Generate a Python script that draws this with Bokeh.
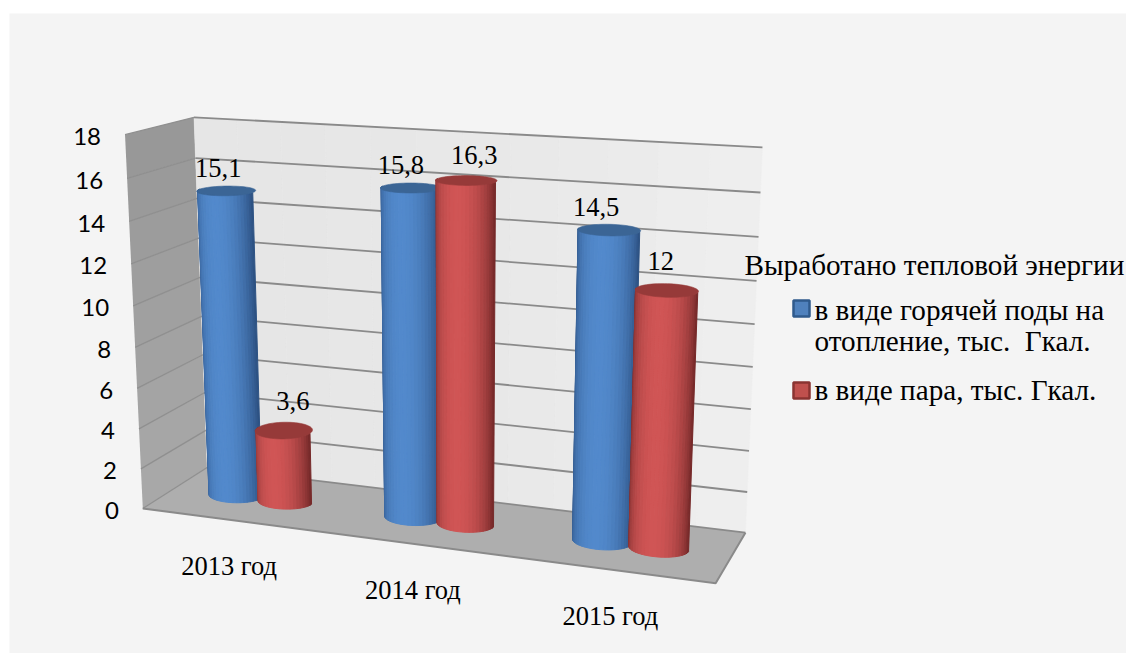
import numpy as np
from bokeh.plotting import figure
from bokeh.embed import file_html
from bokeh.resources import INLINE
from bokeh.core.properties import value

categories = ["2013 год", "2014 год", "2015 год"]
blue_values = [15.1, 15.8, 14.5]
red_values = [3.6, 16.3, 12.0]
blue_labels = ["15,1", "15,8", "14,5"]
red_labels = ["3,6", "16,3", "12"]
tick_values = [0, 2, 4, 6, 8, 10, 12, 14, 16, 18]
legend_title = "Выработано тепловой энергии"
legend_blue = ["в виде горячей поды на", "отопление, тыс.\u00a0 Гкал."]
legend_red = "в виде пара, тыс. Гкал."

W, H = 1126, 653
SERIF = value("Liberation Serif")

# ---- oblique view: world (category, value, depth) -> page pixels
world = [(0,18,1),(3,18,1),(3,0,1),(0,0,1),(0,18,0),(0,0,0),(3,0,0)]
page = [(193,117),(762,147),(745,532),(207,467),(125,134),(142,508),(715,583)]
A = []
for (a,b,c),(u,v) in zip(world,page):
    A.append([a,b,c,1,0,0,0,0,-u*a,-u*b,-u*c,-u])
    A.append([0,0,0,0,a,b,c,1,-v*a,-v*b,-v*c,-v])
M = np.linalg.svd(np.array(A,float))[2][-1].reshape(3,4)

def proj(x, v, z):
    x, v, z = np.broadcast_arrays(np.asarray(x,float), np.asarray(v,float), np.asarray(z,float))
    P = M @ np.vstack([x.ravel(), v.ravel(), z.ravel(), np.ones(x.size)])
    return P[0]/P[2], P[1]/P[2]

def mix(c1, c2, t):
    return "#%02x%02x%02x" % tuple(int(round(a+(b-a)*t)) for a,b in zip(c1,c2))

p = figure(width=W, height=H, x_range=(0, W), y_range=(H, 0),
           output_backend="svg", toolbar_location=None, min_border=0)
p.axis.visible = False
p.grid.visible = False
p.outline_line_color = None
p.border_fill_color = "white"
p.background_fill_color = "white"

# panel
p.quad(left=[9], right=[W], top=[13], bottom=[H], fill_color="#f4f4f4", line_color=None)

# side wall, one band per tick interval
for lo, hi in zip(tick_values[:-1], tick_values[1:]):
    x, y = proj([0,0,0,0],[lo,lo,hi,hi],[0,1,1,0])
    p.patch(list(x), list(y), fill_color=mix((0xa8,0xa8,0xa8),(0x98,0x98,0x98),lo/16), line_color=None)

# back wall, split in columns for its slight gradient
for i in range(12):
    a, b = i/4, (i+1)/4
    x, y = proj([a,b,b,a],[0,0,18,18],[1,1,1,1])
    c = mix((0xe6,0xe6,0xe6),(0xee,0xee,0xee),(i/11)**2)
    p.patch(list(x), list(y), fill_color=c, line_color=c, line_width=0.5)

# floor
x, y = proj([0,3,3,0],[0,0,0,0],[0,0,1,1])
p.patch(list(x), list(y), fill_color="#aeaeae", line_color=None)

# grid lines
for t in tick_values:
    x, y = proj([0,0,3],[t,t,t],[0,1,1])
    p.line(list(x[:2]), list(y[:2]), line_color="#8f8f8f", line_width=1.3)
    p.line(list(x[1:]), list(y[1:]), line_color="#8a8a8a", line_width=1.8)
x, y = proj([0,3,3],[0,0,0],[0,0,1])
p.line(list(x), list(y), line_color="#8a8a8a", line_width=2)

# cylinders
RX, RZ, ZC, OFF = 0.148, 0.17, 0.5, 0.143
BLUE = dict(edge=(0x2c,0x50,0x80), mid=(0x52,0x89,0xcc), top="#3b6595")
RED = dict(edge=(0x72,0x28,0x28), mid=(0xd0,0x55,0x55), top="#963a39")

def cylinder(xc, val, st):
    th = np.linspace(np.pi, 0, 25)
    xs, ys, cs = [], [], []
    for a, b in zip(th[:-1], th[1:]):
        xa, za = xc+RX*np.cos(a), ZC-RZ*np.sin(a)
        xb, zb = xc+RX*np.cos(b), ZC-RZ*np.sin(b)
        sx, sy = proj([xa,xb,xb,xa],[0,0,val,val],[za,zb,zb,za])
        xs.append(list(sx)); ys.append(list(sy))
        cs.append(mix(st["edge"], st["mid"], np.sin((a+b)/2)**1.1))
    p.patches(xs, ys, fill_color=cs, line_color=cs, line_width=1.0)
    t = np.linspace(0, 2*np.pi, 61)
    sx, sy = proj(xc+RX*np.cos(t), np.full(61,val), ZC-RZ*1.2*np.sin(t))
    p.patch(list(sx), list(sy), fill_color=st["top"], line_color=st["top"], line_width=0.6)

label_dx = [[-8,-10,-13],[9,8,-6]]
label_dy = [[-23,-23,-23],[-29,-25,-29]]
lx, ly, lt = [], [], []
for i in range(3):
    for s,(vals,labs,st,sgn) in enumerate([(blue_values,blue_labels,BLUE,-1),(red_values,red_labels,RED,1)]):
        xc = i+0.5+sgn*OFF
        cylinder(xc, vals[i], st)
        px, py = proj(xc, vals[i], ZC)
        lx.append(px[0]+label_dx[s][i]); ly.append(py[0]+label_dy[s][i]); lt.append(labs[i])
p.text(lx, ly, text=lt, text_font=SERIF, text_font_size="26.5px", text_color="#000000",
       text_align="center", text_baseline="alphabetic")

# value axis labels, following the wall's front edge
tx, ty = proj(np.zeros(len(tick_values)), tick_values, np.zeros(len(tick_values)))
p.text(list(tx-24), list(ty+2), text=[str(t) for t in tick_values], text_font=value("Lato"),
       text_font_size="24px", text_color="#000000", text_align="right", text_baseline="middle")

# category labels
cx, cy = proj(np.arange(3)+0.5, np.zeros(3), np.zeros(3))
p.text(list(cx-1), list(cy+46), text=categories, text_font=SERIF, text_font_size="26.5px",
       text_color="#000000", text_align="center", text_baseline="alphabetic")

# legend
p.text([744],[264], text=[legend_title], text_font=SERIF, text_font_size="29.2px", text_color="#000000", text_baseline="alphabetic")
p.text([814,814,814],[309,340,389], text=legend_blue+[legend_red], text_font=SERIF, text_font_size="29.2px",
       text_color="#000000", text_baseline="alphabetic")
p.quad(left=[793,793], right=[809,809], top=[300,382], bottom=[316,398],
       fill_color=["#4f81bd","#c0504d"], line_color=["#2f5a8c","#8a3331"], line_width=2.5)

open("out.html","w").write(file_html(p, INLINE))
